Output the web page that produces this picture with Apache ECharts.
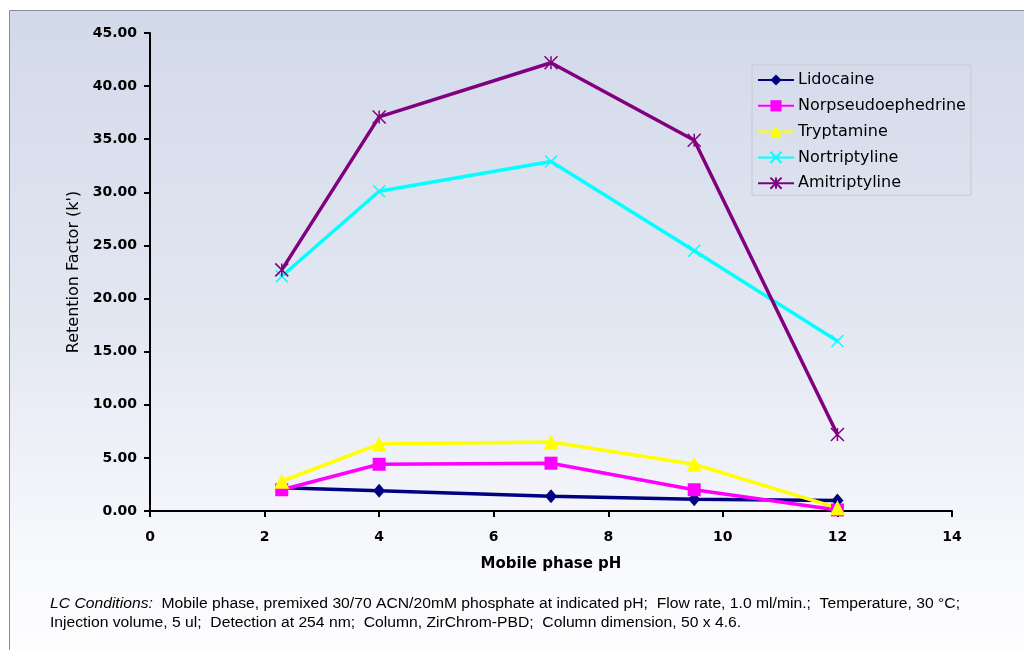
<!DOCTYPE html>
<html>
<head>
<meta charset="utf-8">
<script src="https://cdn.jsdelivr.net/npm/echarts@6/dist/echarts.min.js"></script>
<style>
html,body{margin:0;padding:0;background:#fff;}
#chart{width:1024px;height:650px;}
</style>
</head>
<body>
<div id="chart"></div>
<script>
// Data
var phValues = [2.3, 4, 7, 9.5, 12];
var lidocaine = [2.2, 1.9, 1.4, 1.1, 1.0];
var norpseudoephedrine = [2.0, 4.4, 4.5, 2.0, 0.1];
var tryptamine = [2.8, 6.3, 6.5, 4.4, 0.3];
var nortriptyline = [22.1, 30.1, 32.9, 24.5, 16.0];
var amitriptyline = [22.7, 37.1, 42.2, 34.9, 7.2];
var seriesNames = ['Lidocaine', 'Norpseudoephedrine', 'Tryptamine', 'Nortriptyline', 'Amitriptyline'];
var xTicks = [0, 2, 4, 6, 8, 10, 12, 14];
var yTicks = [0, 5, 10, 15, 20, 25, 30, 35, 40, 45];
var footerLine1Label = 'LC Conditions:';
var footerLine1 = '  Mobile phase, premixed 30/70 ACN/20mM phosphate at indicated pH;  Flow rate, 1.0 ml/min.;  Temperature, 30 °C;';
var footerLine2 = 'Injection volume, 5 ul;  Detection at 254 nm;  Column, ZirChrom-PBD;  Column dimension, 50 x 4.6.';

function pairs(ys) { return phValues.map(function (x, i) { return [x, ys[i]]; }); }

var chart = echarts.init(document.getElementById('chart'));
var WIDE = '"DejaVu Sans", Verdana, sans-serif';
var ARIAL = '"Liberation Sans", Arial, sans-serif';

function lineSeries(name, ys, color, symbol, size, extraItem) {
  return {
    name: name,
    type: 'line',
    data: pairs(ys),
    symbol: symbol,
    symbolSize: size,
    showAllSymbol: true,
    lineStyle: { color: color, width: 3.5 },
    itemStyle: Object.assign({ color: color }, extraItem || {}),
    emphasis: { disabled: true },
    animation: false
  };
}

var option = {
  backgroundColor: '#ffffff',
  animation: false,
  textStyle: { fontFamily: WIDE },
  graphic: [
    {
      type: 'rect', z: -10, silent: true,
      shape: { x: 9.5, y: 10.5, width: 1100, height: 700 },
      style: {
        fill: {
          type: 'linear', x: 0, y: 0, x2: 0, y2: 1, global: false,
          colorStops: [
            { offset: 0, color: '#d2d9e9' },
            { offset: 0.45, color: '#e3e7f2' },
            { offset: 0.8, color: '#f9fafd' },
            { offset: 1, color: '#ffffff' }
          ]
        },
        stroke: '#8a8c94', lineWidth: 1
      }
    },
    {
      type: 'text', silent: true, x: 50, y: 597, scaleX: 1.12, scaleY: 1,
      style: {
        x: 0, y: 0,
        text: '{i|' + footerLine1Label + '}' + footerLine1,
        font: '14px ' + ARIAL,
        fill: '#000',
        verticalAlign: 'top',
        rich: { i: { fontStyle: 'italic', fontSize: 14, fontFamily: ARIAL, fill: '#000' } }
      }
    },
    {
      type: 'text', silent: true, x: 50, y: 616, scaleX: 1.12, scaleY: 1,
      style: {
        x: 0, y: 0,
        text: footerLine2,
        font: '14px ' + ARIAL,
        fill: '#000',
        verticalAlign: 'top'
      }
    }
  ],
  grid: { left: 150, right: 72, top: 33, bottom: 139, containLabel: false },
  legend: {
    orient: 'vertical',
    left: 752, top: 65,
    padding: [7, 5, 4, 5],
    itemWidth: 36, itemHeight: 14, itemGap: 9.8,
    borderColor: '#c6cad4', borderWidth: 1,
    textStyle: { fontSize: 16, color: '#000', fontFamily: WIDE, padding: [0, 0, 0, -1] },
    data: seriesNames
  },
  xAxis: {
    type: 'value', min: 0, max: 14, interval: 2,
    name: 'Mobile phase pH', nameLocation: 'middle', nameGap: 46,
    nameTextStyle: { fontSize: 15, fontWeight: 'bold', color: '#000', fontFamily: WIDE },
    axisLine: { show: true, onZero: false, lineStyle: { color: '#000', width: 2 } },
    axisTick: { show: true, inside: false, length: 6, lineStyle: { color: '#000', width: 2 } },
    axisLabel: { fontSize: 14, fontWeight: 'bold', color: '#000', margin: 19, fontFamily: WIDE,
      formatter: function (v) { return xTicks.indexOf(v) >= 0 ? String(v) : ''; } },
    splitLine: { show: false }
  },
  yAxis: {
    type: 'value', min: 0, max: 45, interval: 5,
    name: "Retention Factor (k')", nameLocation: 'middle', nameGap: 66,
    nameTextStyle: { fontSize: 16, fontWeight: 'normal', color: '#000', fontFamily: WIDE },
    axisLine: { show: true, onZero: false, lineStyle: { color: '#000', width: 2 } },
    axisTick: { show: true, inside: false, length: 6, lineStyle: { color: '#000', width: 2 } },
    axisLabel: { fontSize: 14, fontWeight: 'bold', color: '#000', margin: 13, fontFamily: WIDE,
      formatter: function (v) { return yTicks.indexOf(v) >= 0 ? v.toFixed(2) : ''; } },
    splitLine: { show: false }
  },
  series: [
    lineSeries(seriesNames[0], lidocaine, '#000080', 'diamond', [12, 14]),
    lineSeries(seriesNames[1], norpseudoephedrine, '#ff00ff', 'rect', 13),
    lineSeries(seriesNames[2], tryptamine, '#ffff00', 'triangle', 15),
    lineSeries(seriesNames[3], nortriptyline, '#00ffff', 'path://M0,0L10,10M10,0L0,10', 12,
      { borderColor: '#00ffff', borderWidth: 1.5 }),
    lineSeries(seriesNames[4], amitriptyline, '#800080', 'path://M0,0L10,10M10,0L0,10M5,0L5,10', 13,
      { borderColor: '#800080', borderWidth: 1.5 })
  ]
};
chart.setOption(option);
</script>
</body>
</html>
